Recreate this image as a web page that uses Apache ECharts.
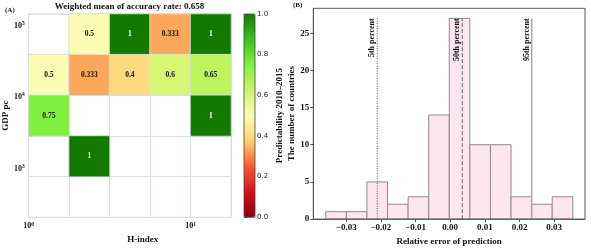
<!DOCTYPE html>
<html><head><meta charset="utf-8">
<script src="https://cdn.jsdelivr.net/npm/echarts@6/dist/echarts.min.js"></script>
<style>html,body{margin:0;padding:0;background:#fff}#c{width:591px;height:251px}</style>
</head><body><div id="c"></div>
<script>
// ---- Panel A data ----
const hBins = ['b0','b1','b2','b3','b4'];           // H-index bins (left→right)
const gdpBins = ['g0','g1','g2','g3','g4'];         // GDP pc bins (bottom→top)
const heatRows = [                                  // rows top→bottom
  [null, 0.5, 1, 0.333, 1],
  [0.5, 0.333, 0.4, 0.6, 0.65],
  [0.75, null, null, null, 1],
  [null, 1, null, null, null],
  [null, null, null, null, null]
];
const hTicks = [0, 1];        // log10 H-index
const gdpTicks = [3, 4, 5];   // log10 GDP pc
const colorTicks = [0, 0.2, 0.4, 0.6, 0.8, 1.0];
const titleA = 'Weighted mean of accuracy rate: 0.658';

// ---- Panel B data ----
const binEdges = [-0.0359, -0.02996, -0.02402, -0.01808, -0.01214, -0.0062, -0.00026, 0.00568, 0.01162, 0.01756, 0.0235, 0.02944, 0.03538];
const counts = [1, 1, 5, 2, 3, 14, 27, 10, 10, 3, 2, 3];
const percentileNames = ['5th percent', '50th percent', '95th percent'];
const percentileValues = [-0.02104, 0.00349, 0.02352];
const percentileTop = 27;
const errTicks = [-0.03, -0.02, -0.01, 0, 0.01, 0.02, 0.03];

const SERIF = 'Liberation Serif';
const heatData = [];
heatRows.forEach((row, i) => row.forEach((v, j) => {
  if (v === null) return;
  heatData.push({value: [j, 4 - i, v], label: {color: v >= 0.9 ? '#fff' : '#111'}});
}));
const histData = counts.map((c, i) => [binEdges[i], binEdges[i + 1], c]);
const lineStyles = [
  {lineDash: [1, 1.5], stroke: '#555', lineWidth: 1},
  {lineDash: [4, 2], stroke: '#666', lineWidth: 1},
  {lineDash: null, stroke: '#aaa', lineWidth: 1.5}
];
const pctData = percentileValues.map((x, i) => [x, percentileTop, i]);
const supFmt = v => '{b|10}{s|' + Math.round(v) + '}';
const supRich = {b: {fontFamily: SERIF, fontWeight: 'bold', fontSize: 8, color: '#111'},
                 s: {fontFamily: SERIF, fontWeight: 'bold', fontSize: 5.5, color: '#111', verticalAlign: 'top', padding: [0, 0, 4, 0]}};
const gridLineColor = '#d9dfdf';

const chart = echarts.init(document.getElementById('c'));
chart.setOption({
  animation: false,
  grid: [
    {left: 27.7, top: 14, width: 203.3, height: 203.3, show: true, borderColor: gridLineColor, borderWidth: 1, backgroundColor: 'transparent'},
    {left: 313.3, top: 8.3, width: 271.7, height: 216, show: true, borderColor: '#555', borderWidth: 1, backgroundColor: 'transparent', z: 5},
    {left: 244, top: 14, width: 11, height: 203.3, show: true, borderColor: '#444', borderWidth: 0.8, backgroundColor: 'transparent', z: 10}
  ],
  xAxis: [
    {type: 'category', gridIndex: 0, data: hBins, axisLabel: {show: false}, axisTick: {show: false},
     axisLine: {lineStyle: {color: gridLineColor}}, splitLine: {show: true, interval: 0, lineStyle: {color: gridLineColor}}},
    {type: 'value', gridIndex: 0, min: 0, max: 1.25, position: 'bottom', axisLine: {show: false}, axisTick: {show: false}, splitLine: {show: false},
     axisLabel: {customValues: hTicks, formatter: supFmt, rich: supRich, margin: 4},
     name: 'H-index', nameLocation: 'middle', nameGap: 12,
     nameTextStyle: {fontFamily: SERIF, fontWeight: 'bold', fontSize: 9, color: '#111', padding: [0, 0, 0, 26]}},
    {type: 'value', gridIndex: 1, min: -0.0395, max: 0.0389, axisLine: {show: true, onZero: false, lineStyle: {color: '#555'}},
     axisTick: {show: true, length: 3, customValues: errTicks, lineStyle: {color: '#555'}}, splitLine: {show: false},
     axisLabel: {customValues: errTicks, fontFamily: SERIF, fontWeight: 'bold', fontSize: 9, color: '#111', margin: 4,
       formatter: v => (v < -1e-9 ? '\u2212' : '') + Math.abs(v).toFixed(2)},
     name: 'Relative error of prediction', nameLocation: 'middle', nameGap: 14,
     nameTextStyle: {fontFamily: SERIF, fontWeight: 'bold', fontSize: 9, color: '#111'}},
    {type: 'value', gridIndex: 2, min: 0, max: 1, show: false}
  ],
  yAxis: [
    {type: 'category', gridIndex: 0, data: gdpBins, axisLabel: {show: false}, axisTick: {show: false},
     axisLine: {lineStyle: {color: gridLineColor}}, splitLine: {show: true, interval: 0, lineStyle: {color: gridLineColor}}},
    {type: 'value', gridIndex: 0, min: 2.317, max: 5.161, position: 'left', axisLine: {show: false}, axisTick: {show: false}, splitLine: {show: false},
     axisLabel: {customValues: gdpTicks, formatter: supFmt, rich: supRich, margin: 4},
     name: 'GDP pc', nameLocation: 'middle', nameGap: 15, nameRotate: 90,
     nameTextStyle: {fontFamily: SERIF, fontWeight: 'bold', fontSize: 9, color: '#111'}},
    {type: 'value', gridIndex: 1, min: 0, max: 28.35, interval: 5, axisLine: {show: true, onZero: false, lineStyle: {color: '#555'}},
     axisTick: {show: true, length: 3, lineStyle: {color: '#555'}}, splitLine: {show: false},
     axisLabel: {fontFamily: SERIF, fontWeight: 'bold', fontSize: 9, color: '#111', margin: 4, showMaxLabel: false},
     name: 'The number of countries', nameLocation: 'middle', nameGap: 16, nameRotate: 90,
     nameTextStyle: {fontFamily: SERIF, fontWeight: 'bold', fontSize: 9, color: '#111'}},
    {type: 'value', gridIndex: 2, min: 0, max: 1, interval: 0.2, position: 'right', axisLine: {show: false},
     axisTick: {show: true, length: 3, lineStyle: {color: '#333'}}, splitLine: {show: false},
     axisLabel: {fontFamily: 'DejaVu Sans', fontSize: 7, color: '#222', margin: 2, formatter: v => v.toFixed(1)},
     name: 'Predictability 2010\u20132015', nameLocation: 'middle', nameGap: 20, nameRotate: 90,
     nameTextStyle: {fontFamily: SERIF, fontWeight: 'bold', fontSize: 9, color: '#111'}}
  ],
  visualMap: {
    type: 'continuous', min: 0, max: 1, seriesIndex: 0, calculable: false, show: true,
    left: 244, top: 14, itemWidth: 11, itemHeight: 203.3, padding: 0, text: null, showLabel: false,
    inRange: {color: ['#8b0018', '#d8101a', '#f85a30', '#fed070', '#fcfcb4', '#ccf464', '#80f040', '#3cc21c', '#137a00']}
  },
  graphic: [
    {type: 'text', left: 5, top: 7, style: {text: '(A)', font: 'bold 7px "Liberation Serif"', fill: '#111'}},
    {type: 'text', left: 293, top: 2, style: {text: '(B)', font: 'bold 7px "Liberation Serif"', fill: '#111'}},
    {type: 'text', x: 129.5, y: 7, style: {text: titleA, font: 'bold 9px "Liberation Serif"', fill: '#111', align: 'center', verticalAlign: 'middle'}}
  ],
  series: [
    {type: 'heatmap', xAxisIndex: 0, yAxisIndex: 0, data: heatData,
     itemStyle: {borderColor: 'rgba(215,222,222,0.9)', borderWidth: 1},
     label: {show: true, fontFamily: SERIF, fontWeight: 'bold', fontSize: 7.5, formatter: p => String(p.value[2])}},
    {type: 'custom', xAxisIndex: 2, yAxisIndex: 2, data: histData, encode: {x: [0, 1], y: 2},
     renderItem: (params, api) => {
       const p0 = api.coord([api.value(0), 0]);
       const p1 = api.coord([api.value(1), api.value(2)]);
       return {type: 'rect', shape: {x: p0[0], y: p1[1], width: p1[0] - p0[0], height: p0[1] - p1[1]},
               style: {fill: '#fde6f0', stroke: '#8c8c8c', lineWidth: 1}};
     }},
    {type: 'custom', xAxisIndex: 2, yAxisIndex: 2, data: pctData, encode: {x: 0, y: 1}, z: 3,
     renderItem: (params, api) => {
       const idx = api.value(2);
       const b = api.coord([api.value(0), 0]);
       const t = api.coord([api.value(0), api.value(1)]);
       return {type: 'group', children: [
         {type: 'line', shape: {x1: b[0], y1: b[1], x2: t[0], y2: t[1]}, style: lineStyles[idx]},
         {type: 'text', x: t[0] - 1, y: t[1], rotation: Math.PI / 2,
          style: {text: percentileNames[idx], font: 'bold 8px "Liberation Serif"', fill: '#111', align: 'right', verticalAlign: 'bottom'}}
       ]};
     }}
  ]
});
</script></body></html>
